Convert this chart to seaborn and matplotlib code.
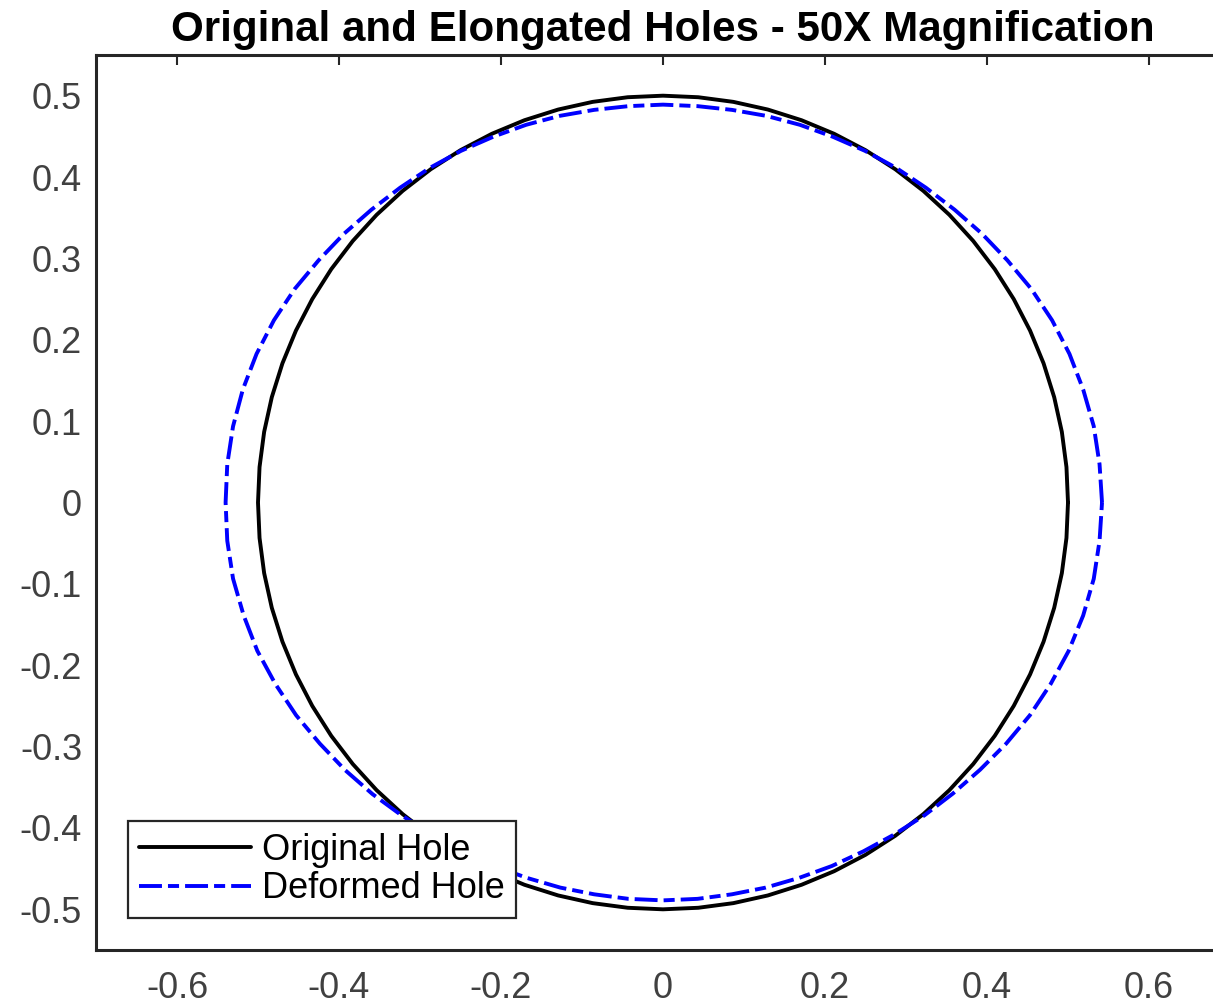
import numpy as np
import pandas as pd
import matplotlib
matplotlib.use("Agg")
import matplotlib.pyplot as plt
import seaborn as sns

# ---- data ----
angles_deg = list(range(0, 360, 5))
original_radius = [0.500] * 72
deformed_radius = [
    0.542, 0.541, 0.540, 0.537, 0.534, 0.530, 0.525, 0.519, 0.514, 0.509,   # 0-45
    0.505, 0.502, 0.499, 0.496, 0.494, 0.492, 0.490, 0.489, 0.489, 0.489,   # 50-95
    0.490, 0.492, 0.494, 0.496, 0.499, 0.502, 0.505, 0.509, 0.514, 0.519,   # 100-145
    0.525, 0.530, 0.534, 0.537, 0.539, 0.540, 0.540, 0.540, 0.539, 0.536,   # 150-195
    0.533, 0.528, 0.523, 0.517, 0.512, 0.507, 0.502, 0.498, 0.495, 0.493,   # 200-245
    0.491, 0.490, 0.489, 0.489, 0.489, 0.489, 0.489, 0.490, 0.491, 0.493,   # 250-295
    0.495, 0.498, 0.502, 0.506, 0.511, 0.517, 0.523, 0.528, 0.533, 0.537,   # 300-345
    0.540, 0.541]                                                           # 350-355
series_names = ["Original Hole", "Deformed Hole"]
x_ticks = [-0.6, -0.4, -0.2, 0, 0.2, 0.4, 0.6]
y_ticks = [-0.5, -0.4, -0.3, -0.2, -0.1, 0, 0.1, 0.2, 0.3, 0.4, 0.5]
title_text = "Original and Elongated Holes - 50X Magnification"

sns.set_style("white")
plt.rcParams["font.family"] = ["Liberation Sans", "DejaVu Sans"]
plt.rcParams["axes.unicode_minus"] = False

def closed_frame(radii, name):
    th = np.deg2rad(angles_deg + [angles_deg[0]])
    r = np.array(radii + [radii[0]])
    return pd.DataFrame({"x": r * np.cos(th), "y": r * np.sin(th),
                         "order": np.arange(len(r)), "series": name})

df = pd.concat([closed_frame(original_radius, series_names[0]),
                closed_frame(deformed_radius, series_names[1])], ignore_index=True)

fig = plt.figure(figsize=(12.13, 10.06), dpi=100)
ax = fig.add_axes([96 / 1213, 56 / 1006, 1134 / 1213, 895 / 1006])

LW = 2.8
DASH = (5.9, 1.55, 2.85, 1.55)
d0 = df[df.series == series_names[0]]
d1 = df[df.series == series_names[1]]
sns.lineplot(data=d0, x="x", y="y", sort=False, estimator=None, color="black",
             linewidth=LW, ax=ax, label=series_names[0])
sns.lineplot(data=d1, x="x", y="y", sort=False, estimator=None, color="#0000ff",
             linewidth=LW, ax=ax, label=series_names[1])
ax.lines[1].set_dashes(DASH)

ax.set_xlim(-0.7, 0.7)
ax.set_ylim(-0.55, 0.55)
ax.set_xticks(x_ticks)
ax.set_yticks(y_ticks)
ax.set_xticklabels([f"{v:g}" for v in x_ticks])
ax.set_yticklabels([f"{v:g}" for v in y_ticks])
ax.set_xlabel("")
ax.set_ylabel("")
ax.tick_params(direction="in", length=7, width=1.5, colors="#262626",
               labelsize=26, labelcolor="#404040", top=True, right=True)
ax.tick_params(axis="x", pad=15)
ax.tick_params(axis="y", pad=10)
for s in ax.spines.values():
    s.set_visible(True)
    s.set_color("#262626")
    s.set_linewidth(2.2)

ax.set_title(title_text, fontsize=30.3, fontweight="bold", color="black", pad=10)

leg = ax.legend(loc="lower left", bbox_to_anchor=(0.028, 0.036), borderaxespad=0,
                fontsize=26, frameon=True, fancybox=False, framealpha=1,
                edgecolor="#262626", handlelength=3.1, handletextpad=0.3,
                borderpad=0.32, labelspacing=0.1)
leg.get_frame().set_linewidth(1.6)
for t in leg.get_texts():
    t.set_color("black")
leg.legend_handles[1].set_dashes(DASH)

fig.savefig("out.png", dpi=100, facecolor="white")
